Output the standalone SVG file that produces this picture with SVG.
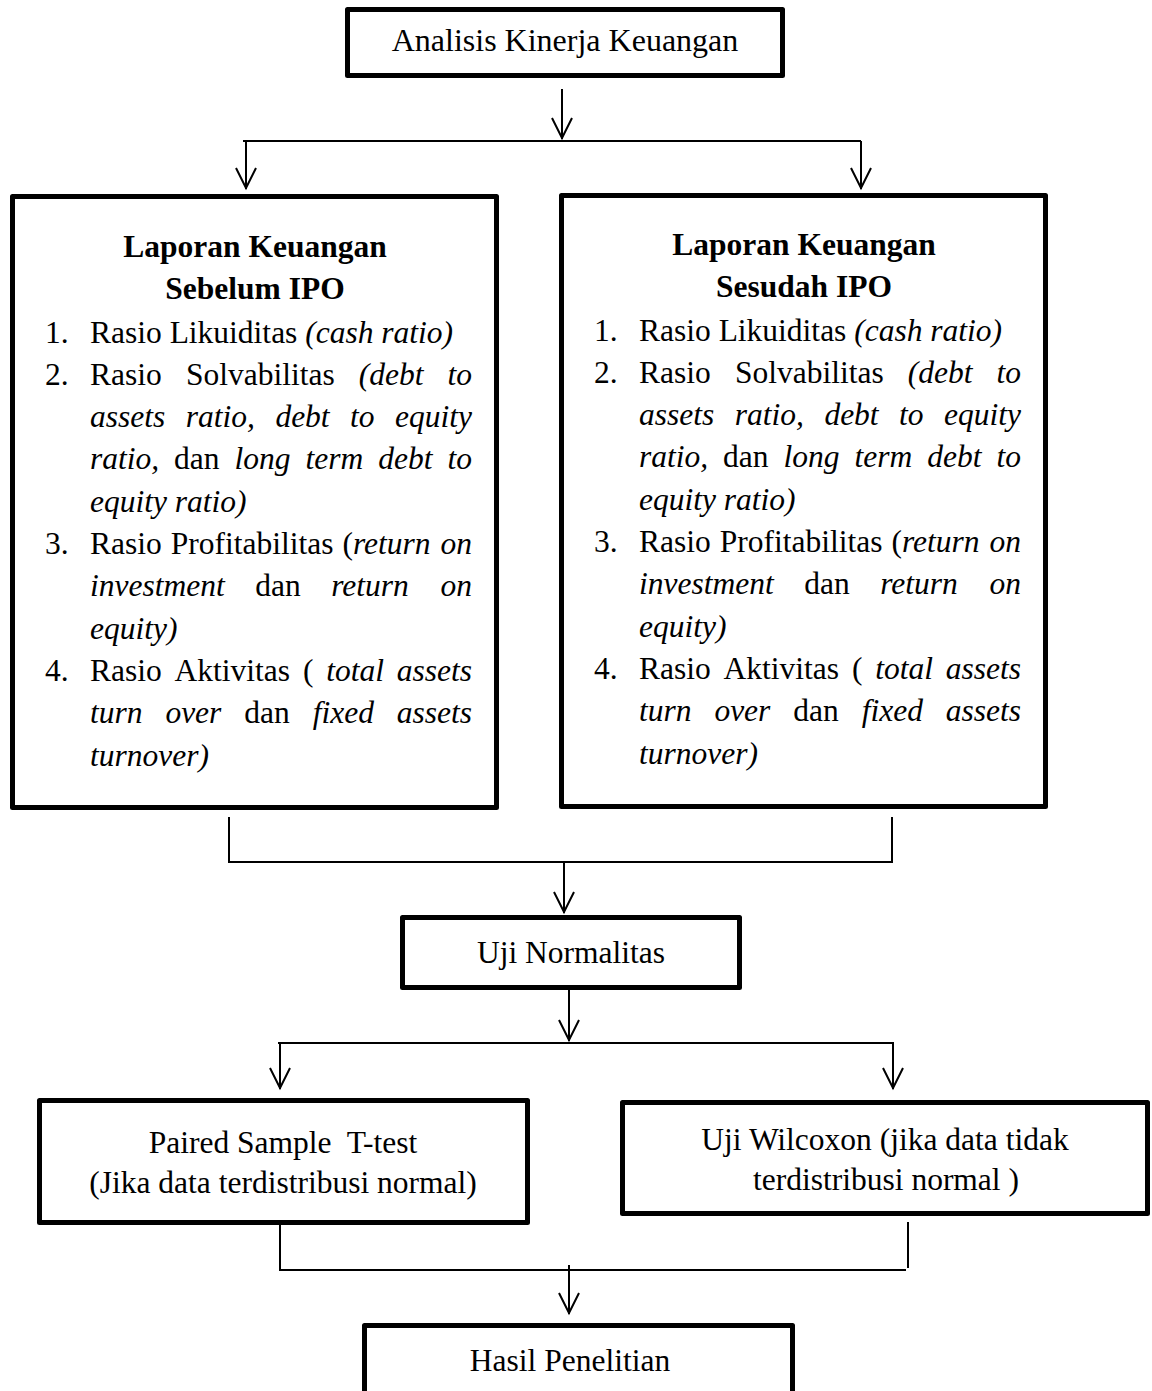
<svg xmlns="http://www.w3.org/2000/svg" width="1152" height="1391" viewBox="0 0 1152 1391">
<style>
.box{fill:#fff;stroke:#000;stroke-width:5;stroke-linejoin:round}
.ln{fill:none;stroke:#000;stroke-width:2}
.heads path{fill:none;stroke:#000;stroke-width:2}
text{font-family:"Liberation Serif","Times New Roman",serif;font-size:31.5px;fill:#000}
.c{text-anchor:middle}
.b{font-weight:bold}
.i{font-style:italic}
.e{text-anchor:end}
</style>
<g id="connectors">
<path class="ln" d="M562,89 V139"/>
<path class="ln" d="M243,141 H861"/>
<path class="ln" d="M246,141 V189"/>
<path class="ln" d="M861,141 V189"/>
<path class="ln" d="M229,817 V862 H892 V817"/>
<path class="ln" d="M564,862 V913"/>
<path class="ln" d="M569,990 V1041"/>
<path class="ln" d="M278,1043 H894"/>
<path class="ln" d="M280,1043 V1089"/>
<path class="ln" d="M893,1043 V1089"/>
<path class="ln" d="M280,1225 V1270 H906"/>
<path class="ln" d="M908,1222 V1268"/>
<path class="ln" d="M569,1265 V1314"/>
<g class="heads">
<path d="M552,118 L562,138 L572,118"/>
<path d="M236,168 L246,188 L256,168"/>
<path d="M851,168 L861,188 L871,168"/>
<path d="M554,892 L564,912 L574,892"/>
<path d="M559,1020 L569,1040 L579,1020"/>
<path d="M270,1068 L280,1088 L290,1068"/>
<path d="M883,1068 L893,1088 L903,1068"/>
<path d="M559,1293 L569,1313 L579,1293"/>
</g>
</g>
<g id="node-analisis">
<rect class="box" x="347.5" y="9.5" width="435" height="66"/>
<text class="c" x="565" y="51" style="font-size:32px">Analisis Kinerja Keuangan</text>
</g>
<g id="node-sebelum">
<rect class="box" x="12.5" y="196.5" width="484" height="611"/>
<text class="c b" x="255" y="257">Laporan Keuangan</text>
<text class="c b" x="255" y="299">Sebelum IPO</text>
<text x="45" y="342.5">1.</text>
<text x="90" y="342.5">Rasio Likuiditas <tspan class="i">(cash ratio)</tspan></text>
<text x="45" y="384.8">2.</text>
<text y="384.8"><tspan x="90">Rasio</tspan><tspan x="185.9">Solvabilitas</tspan><tspan class="i" x="358.8">(debt</tspan></text>
<text class="i e" x="472" y="384.8">to</text>
<text class="i" y="427.1"><tspan x="90">assets</tspan><tspan x="185.8">ratio,</tspan><tspan x="275.4">debt</tspan><tspan x="350.1">to</tspan></text>
<text class="i e" x="472" y="427.1">equity</text>
<text y="469.4"><tspan class="i" x="90">ratio,</tspan><tspan x="174.1">dan</tspan><tspan class="i" x="234.6">long</tspan><tspan class="i" x="305.6">term</tspan><tspan class="i" x="378.3">debt</tspan></text>
<text class="i e" x="472" y="469.4">to</text>
<text class="i" x="90" y="511.7">equity ratio)</text>
<text x="45" y="554">3.</text>
<text y="554"><tspan x="90">Rasio</tspan><tspan x="170.7">Profitabilitas</tspan><tspan x="342.4">(<tspan class="i">return</tspan></tspan></text>
<text class="i e" x="472" y="554">on</text>
<text y="596.3"><tspan class="i" x="90">investment</tspan><tspan x="255.2">dan</tspan><tspan class="i" x="331.2">return</tspan></text>
<text class="i e" x="472" y="596.3">on</text>
<text class="i" x="90" y="638.6">equity)</text>
<text x="45" y="680.9">4.</text>
<text y="680.9"><tspan x="90">Rasio</tspan><tspan x="174.6">Aktivitas</tspan><tspan x="302.9">(</tspan><tspan class="i" x="326.2">total</tspan></text>
<text class="i e" x="472" y="680.9">assets</text>
<text y="723.2"><tspan class="i" x="90">turn</tspan><tspan class="i" x="165.4">over</tspan><tspan x="244.3">dan</tspan><tspan class="i" x="312.7">fixed</tspan></text>
<text class="i e" x="472" y="723.2">assets</text>
<text class="i" x="90" y="765.5">turnover)</text>
</g>
<g id="node-sesudah" transform="translate(549,-2)">
<rect class="box" x="12.5" y="197.5" width="484" height="611"/>
<text class="c b" x="255" y="257">Laporan Keuangan</text>
<text class="c b" x="255" y="299">Sesudah IPO</text>
<text x="45" y="342.5">1.</text>
<text x="90" y="342.5">Rasio Likuiditas <tspan class="i">(cash ratio)</tspan></text>
<text x="45" y="384.8">2.</text>
<text y="384.8"><tspan x="90">Rasio</tspan><tspan x="185.9">Solvabilitas</tspan><tspan class="i" x="358.8">(debt</tspan></text>
<text class="i e" x="472" y="384.8">to</text>
<text class="i" y="427.1"><tspan x="90">assets</tspan><tspan x="185.8">ratio,</tspan><tspan x="275.4">debt</tspan><tspan x="350.1">to</tspan></text>
<text class="i e" x="472" y="427.1">equity</text>
<text y="469.4"><tspan class="i" x="90">ratio,</tspan><tspan x="174.1">dan</tspan><tspan class="i" x="234.6">long</tspan><tspan class="i" x="305.6">term</tspan><tspan class="i" x="378.3">debt</tspan></text>
<text class="i e" x="472" y="469.4">to</text>
<text class="i" x="90" y="511.7">equity ratio)</text>
<text x="45" y="554">3.</text>
<text y="554"><tspan x="90">Rasio</tspan><tspan x="170.7">Profitabilitas</tspan><tspan x="342.4">(<tspan class="i">return</tspan></tspan></text>
<text class="i e" x="472" y="554">on</text>
<text y="596.3"><tspan class="i" x="90">investment</tspan><tspan x="255.2">dan</tspan><tspan class="i" x="331.2">return</tspan></text>
<text class="i e" x="472" y="596.3">on</text>
<text class="i" x="90" y="638.6">equity)</text>
<text x="45" y="680.9">4.</text>
<text y="680.9"><tspan x="90">Rasio</tspan><tspan x="174.6">Aktivitas</tspan><tspan x="302.9">(</tspan><tspan class="i" x="326.2">total</tspan></text>
<text class="i e" x="472" y="680.9">assets</text>
<text y="723.2"><tspan class="i" x="90">turn</tspan><tspan class="i" x="165.4">over</tspan><tspan x="244.3">dan</tspan><tspan class="i" x="312.7">fixed</tspan></text>
<text class="i e" x="472" y="723.2">assets</text>
<text class="i" x="90" y="765.5">turnover)</text>
</g>
<g id="node-uji-normalitas">
<rect class="box" x="402.5" y="917.5" width="337" height="70"/>
<text class="c" x="571" y="963">Uji Normalitas</text>
</g>
<g id="node-paired">
<rect class="box" x="39.5" y="1100.5" width="488" height="122"/>
<text class="c" x="283" y="1153">Paired Sample&#160; T-test</text>
<text class="c" x="283" y="1193">(Jika data terdistribusi normal)</text>
</g>
<g id="node-wilcoxon">
<rect class="box" x="622.5" y="1102.5" width="525" height="111"/>
<text class="c" x="885" y="1150">Uji Wilcoxon (jika data tidak</text>
<text class="c" x="886" y="1190">terdistribusi normal )</text>
</g>
<g id="node-hasil">
<rect class="box" x="364.5" y="1325.5" width="428" height="90"/>
<text class="c" x="570" y="1371">Hasil Penelitian</text>
</g>
</svg>
